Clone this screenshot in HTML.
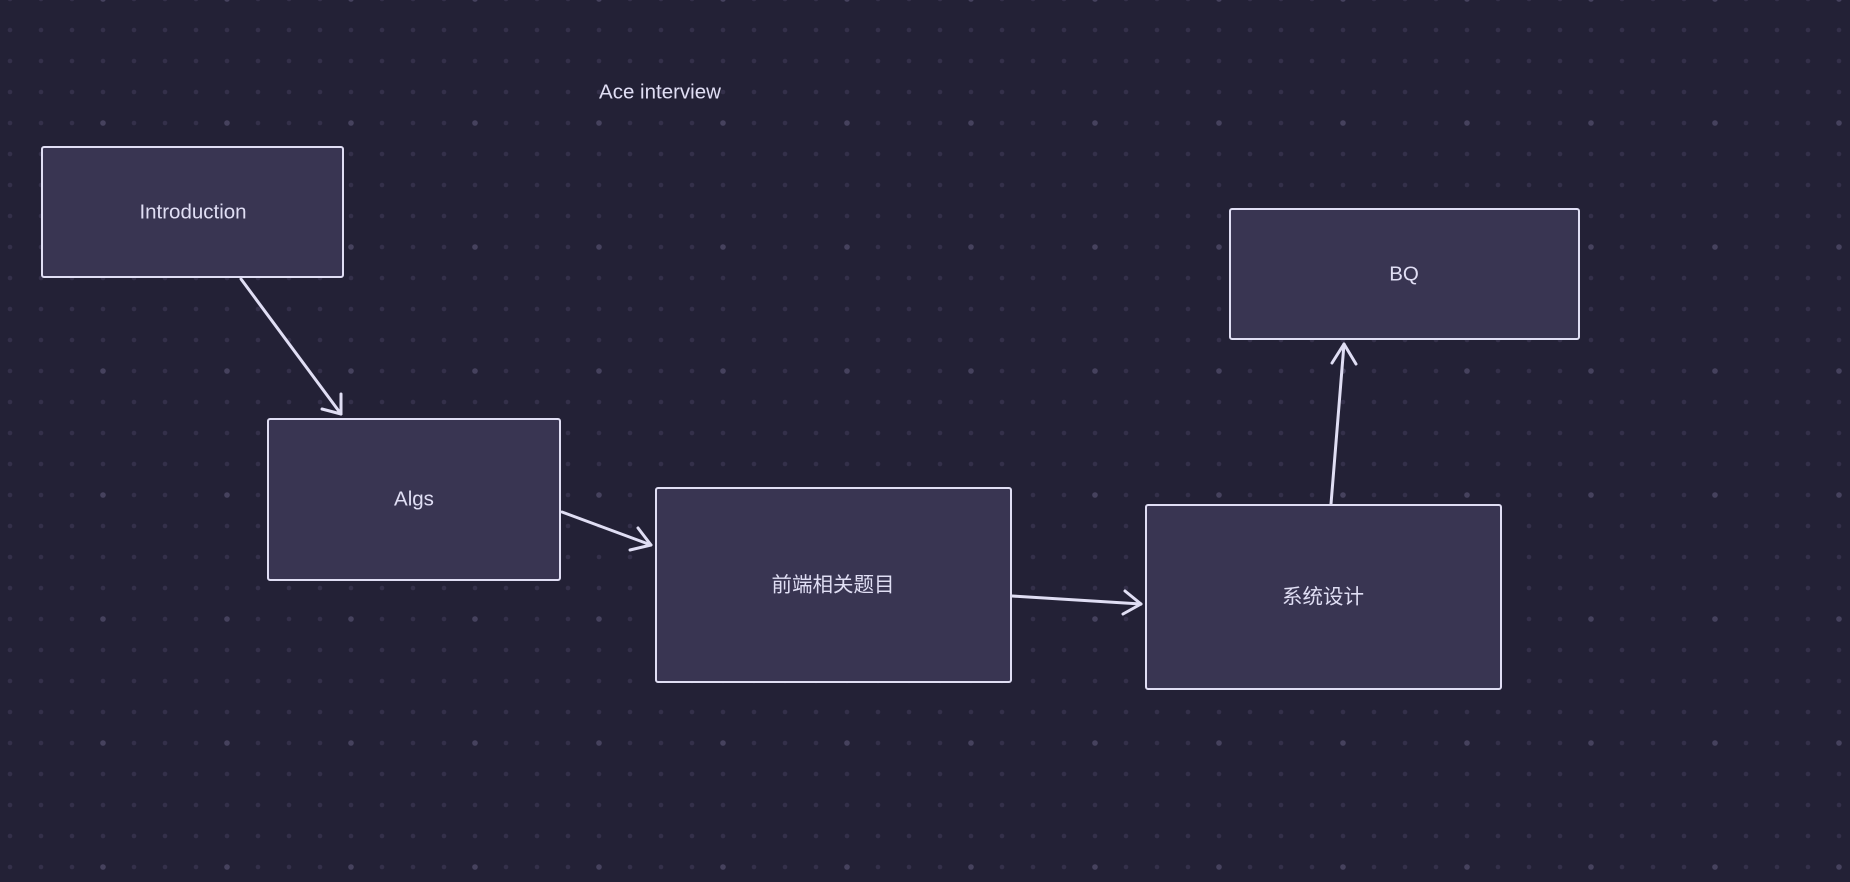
<!DOCTYPE html>
<html><head><meta charset="utf-8"><style>
html,body{margin:0;padding:0;background:#232136;width:1850px;height:882px;overflow:hidden}
svg{display:block}
text{font-family:"Liberation Sans","Noto Sans CJK SC",sans-serif;fill:#e0def4}
</style></head><body>
<svg width="1850" height="882" viewBox="0 0 1850 882" xmlns="http://www.w3.org/2000/svg">
<defs>
<pattern id="d" x="-5.5" y="-16.5" width="31" height="31" patternUnits="userSpaceOnUse">
<circle cx="15.5" cy="15.5" r="2.3" fill="#34304a"/>
</pattern>
<pattern id="b" x="41" y="-63" width="124" height="124" patternUnits="userSpaceOnUse">
<circle cx="62" cy="62" r="2.8" fill="#46425e"/>
</pattern>
</defs>
<rect width="1850" height="882" fill="#232136"/>
<rect width="1850" height="882" fill="url(#d)"/>
<rect width="1850" height="882" fill="url(#b)"/>
<g fill="#393552" stroke="#e0def4" stroke-width="2">
<rect x="42" y="147" width="301" height="130" rx="2"/>
<rect x="268" y="419" width="292" height="161" rx="2"/>
<rect x="656" y="488" width="355" height="194" rx="2"/>
<rect x="1146" y="505" width="355" height="184" rx="2"/>
<rect x="1230" y="209" width="349" height="130" rx="2"/>
</g>
<g stroke="#e0def4" stroke-width="3" fill="none" stroke-linecap="round" stroke-linejoin="round">
<line x1="241" y1="279" x2="341" y2="414"/><polyline points="322,409 341,414 341,394"/>
<line x1="562" y1="512" x2="651" y2="545"/><polyline points="630,550 651,545 638,528"/>
<line x1="1012" y1="596" x2="1141" y2="604"/><polyline points="1123,614 1141,604 1125,591"/>
<line x1="1331" y1="504" x2="1344" y2="344"/><polyline points="1332,363 1344,344 1356,364"/>
</g>
<g font-size="20.5" text-anchor="middle" dominant-baseline="central">
<text x="660" y="92">Ace interview</text>
<text x="193" y="212">Introduction</text>
<text x="414" y="499">Algs</text>
<text x="833" y="585">前端相关题目</text>
<text x="1323" y="597">系统设计</text>
<text x="1404" y="274">BQ</text>
</g>
</svg>
</body></html>
